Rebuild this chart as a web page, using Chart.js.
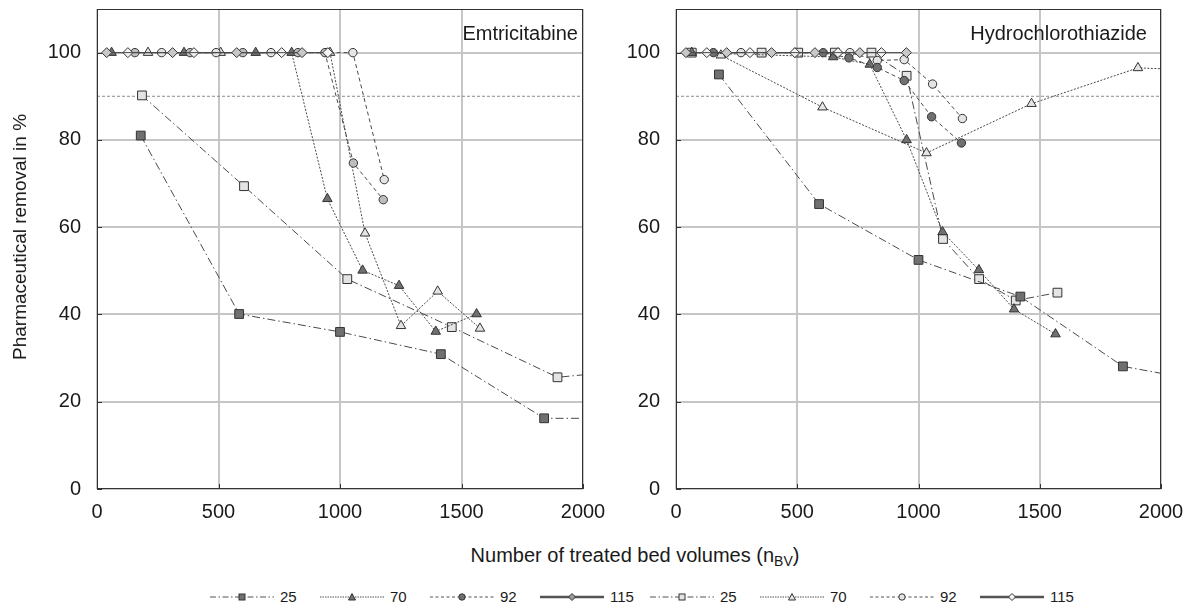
<!DOCTYPE html>
<html lang="en">
<head>
<meta charset="UTF-8">
<title>Pharmaceutical removal</title>
<script src="https://cdn.jsdelivr.net/npm/chart.js"></script>
<style>
    body { margin: 0; background: #fff; font-family: 'Liberation Sans', Arial, sans-serif; color: #1a1a1a; }
    .figure { position: relative; width: 1193px; height: 609px; overflow: hidden; }
    canvas { position: absolute; top: 0; }
    #leftChart { left: 0; }
    #rightChart { left: 580px; }
    .txt { position: absolute; white-space: nowrap; line-height: 20px; font-size: 20px; }
    #yTitle { left: 20px; top: 237px; font-size: 19px; transform: translate(-50%, -50%) rotate(-90deg); }
    #xTitle { left: 635px; top: 555px; transform: translate(-50%, -50%); }
    #xTitle sub { font-size: 14px; vertical-align: -4px; line-height: 0; }
    .legend { position: absolute; left: 210px; top: 589px; display: flex; }
    .legend .item { width: 110px; display: flex; align-items: center; font-size: 15px; line-height: 16px; }
    .legend svg { margin-right: 6px; }
</style>
</head>
<body>
<div class="figure">
    <canvas id="leftChart" width="620" height="530"></canvas>
    <canvas id="rightChart" width="613" height="530"></canvas>
    <div class="txt" style="right:615px; top:23px;">Emtricitabine</div>
    <div class="txt" style="right:46px; top:23px;">Hydrochlorothiazide</div>
    <div class="txt" id="yTitle">Pharmaceutical removal in %</div>
    <div class="txt" id="xTitle">Number of treated bed volumes (n<sub>BV</sub>)</div>
    <div class="legend" id="legend"></div>
</div>

<script>
    // 图中读出的数据 (x = bed volumes, y = removal %)
    // Emtricitabine
    const emt25aX = [180, 585, 1000, 1415, 1840, 2200];
    const emt25aY = [81, 40.1, 36, 30.9, 16.2, 16.2];
    const emt25bX = [185, 605, 1030, 1460, 1895, 2100];
    const emt25bY = [90.2, 69.4, 48.1, 37.1, 25.6, 26.7];
    const emt70aX = [60, 358, 653, 801, 948, 1093, 1243, 1394, 1562];
    const emt70aY = [100, 100, 100, 100, 66.5, 50.1, 46.6, 36.1, 40.1];
    const emt70bX = [210, 509, 959, 1103, 1251, 1402, 1576];
    const emt70bY = [100, 100, 100, 58.6, 37.4, 45.3, 36.8];
    const emt92aX = [156, 383, 600, 827, 938, 1055, 1178];
    const emt92aY = [100, 100, 100, 100, 100, 74.7, 66.3];
    const emt92bX = [266, 490, 716, 946, 1053, 1182];
    const emt92bY = [100, 100, 100, 100, 100, 70.9];
    const emt115aX = [40, 311, 575, 844];
    const emt115aY = [100, 100, 100, 100];
    const emt115bX = [127, 399, 760, 950];
    const emt115bY = [100, 100, 100, 100];

    // Hydrochlorothiazide
    const hct25aX = [177, 590, 1000, 1420, 1843, 2150];
    const hct25aY = [95, 65.3, 52.5, 44.1, 28.1, 25];
    const hct25bX = [65, 353, 504, 655, 806, 951, 1101, 1250, 1401, 1573];
    const hct25bY = [100, 100, 100, 100, 100, 94.7, 57.3, 48.1, 43.2, 45];
    const hct70aX = [65, 648, 799, 951, 1099, 1249, 1394, 1565];
    const hct70aY = [100, 99, 97.3, 80, 58.9, 50.2, 41.2, 35.5];
    const hct70bX = [185, 604, 1033, 1466, 1905, 2150];
    const hct70bY = [99.4, 87.5, 77, 88.3, 96.5, 96];
    const hct92aX = [154, 607, 713, 830, 941, 1054, 1177];
    const hct92aY = [100, 100, 98.8, 96.6, 93.6, 85.3, 79.3];
    const hct92bX = [268, 717, 830, 941, 1058, 1181];
    const hct92bY = [100, 100, 98.2, 98.4, 92.8, 84.9];
    const hct115aX = [41, 209, 394, 573, 758, 950];
    const hct115aY = [100, 100, 100, 100, 100, 100];
    const hct115bX = [127, 305, 490, 668, 847];
    const hct115bY = [100, 100, 100, 100, 100];

    // 90 % 参考线
    const limitX = [0, 2000];
    const limitY = [90, 90];

    const xTicks = [0, 500, 1000, 1500, 2000];
    const yTicks = [0, 20, 40, 60, 80, 100];

    const lineColor = '#4a4a4a';
    const darkFill = '#707070';
    const lightFill = '#e4e4e4';
    const dashDot = [8, 3, 1.5, 3];
    const dotted = [2, 1.5];
    const dashed = [4, 3];

    const legendItems = [
        { label: '25', dash: '6 2.5 1.5 2.5', shape: 'rect', fill: darkFill },
        { label: '70', dash: '1.5 1', shape: 'triangle', fill: darkFill },
        { label: '92', dash: '3 2.5', shape: 'circle', fill: darkFill },
        { label: '115', dash: '', shape: 'rectRot', fill: '#9a9a9a' },
        { label: '25', dash: '6 2.5 1.5 2.5', shape: 'rect', fill: lightFill },
        { label: '70', dash: '1.5 1', shape: 'triangle', fill: lightFill },
        { label: '92', dash: '3 2.5', shape: 'circle', fill: lightFill },
        { label: '115', dash: '', shape: 'rectRot', fill: '#f4f4f4' }
    ];

    function pts(xs, ys) {
        return xs.map((x, i) => ({ x: x, y: ys[i] }));
    }

    function series(label, xs, ys, shape, fill, dash, radius, width) {
        return {
            label: label,
            data: pts(xs, ys),
            showLine: true,
            borderColor: lineColor,
            borderWidth: width || 1,
            borderDash: dash,
            pointStyle: shape,
            pointRadius: radius,
            pointBackgroundColor: fill,
            pointBorderColor: '#333',
            pointBorderWidth: 1,
            tension: 0,
            fill: false
        };
    }

    function limitLine() {
        return {
            label: 'limit',
            data: pts(limitX, limitY),
            showLine: true,
            borderColor: '#8a8a8a',
            borderWidth: 1,
            borderDash: [3, 2],
            pointRadius: 0
        };
    }

    // 外框和内侧小刻度
    const framePlugin = {
        id: 'frame',
        afterDraw(chart) {
            const { ctx, chartArea: a, scales } = chart;
            ctx.save();
            ctx.strokeStyle = '#333';
            ctx.lineWidth = 1;
            ctx.strokeRect(a.left + 0.5, a.top + 0.5, a.right - a.left - 1, a.bottom - a.top - 1);
            ctx.beginPath();
            yTicks.forEach(v => {
                const y = Math.round(scales.y.getPixelForValue(v)) + 0.5;
                ctx.moveTo(a.left, y);
                ctx.lineTo(a.left + 5, y);
            });
            xTicks.forEach(v => {
                const x = Math.round(scales.x.getPixelForValue(v)) + 0.5;
                ctx.moveTo(x, a.bottom);
                ctx.lineTo(x, a.bottom - 5);
            });
            ctx.stroke();
            ctx.restore();
        }
    };

    function noPadding(s) {
        s.paddingLeft = 0;
        s.paddingRight = 0;
        s.paddingTop = 0;
        s.paddingBottom = 0;
    }

    function makeChart(id, datasets, yWidth, rightPad) {
        const grid = { color: '#c6c6c6', lineWidth: 2, drawTicks: false };
        return new Chart(document.getElementById(id), {
            type: 'scatter',
            data: { datasets: datasets },
            options: {
                responsive: false,
                animation: false,
                devicePixelRatio: 1,
                layout: { padding: { top: 9, right: rightPad, left: 0, bottom: 0 } },
                plugins: { legend: { display: false }, tooltip: { enabled: false } },
                scales: {
                    x: {
                        type: 'linear', min: 0, max: 2000,
                        grid: grid,
                        border: { display: false },
                        ticks: { stepSize: 500, padding: 11, color: '#1a1a1a', font: { size: 20 },
                                 callback: v => String(v) },
                        afterFit(s) { s.height = 41; noPadding(s); }
                    },
                    y: {
                        type: 'linear', min: 0, max: 110,
                        grid: grid,
                        border: { display: false },
                        ticks: { stepSize: 20, includeBounds: false, padding: 16, color: '#1a1a1a', font: { size: 20 },
                                 callback: v => String(v) },
                        afterFit(s) { s.width = yWidth; noPadding(s); }
                    }
                }
            },
            plugins: [framePlugin]
        });
    }

    Chart.defaults.font.family = "'Liberation Sans', Arial, sans-serif";

    makeChart('leftChart', [
        series('115', emt115aX, emt115aY, 'rectRot', '#c8c8c8', [], 5),
        series('115', emt115bX, emt115bY, 'rectRot', '#f4f4f4', [], 5),
        series('92', emt92aX, emt92aY, 'circle', '#bdbdbd', dashed, 4.2),
        series('92', emt92bX, emt92bY, 'circle', lightFill, dashed, 4.2),
        series('70', emt70aX, emt70aY, 'triangle', darkFill, dotted, 5.5),
        series('70', emt70bX, emt70bY, 'triangle', lightFill, dotted, 5.5),
        series('25', emt25aX, emt25aY, 'rect', darkFill, dashDot, 6.2),
        series('25', emt25bX, emt25bY, 'rect', lightFill, dashDot, 6.2),
        limitLine()
    ], 97, 37);

    makeChart('rightChart', [
        series('115', hct115aX, hct115aY, 'rectRot', '#c8c8c8', [], 5),
        series('115', hct115bX, hct115bY, 'rectRot', '#f4f4f4', [], 5),
        series('92', hct92aX, hct92aY, 'circle', darkFill, dashed, 4.2),
        series('92', hct92bX, hct92bY, 'circle', lightFill, dashed, 4.2),
        series('70', hct70aX, hct70aY, 'triangle', darkFill, dotted, 5.5),
        series('70', hct70bX, hct70bY, 'triangle', lightFill, dotted, 5.5),
        series('25', hct25aX, hct25aY, 'rect', darkFill, dashDot, 6.2),
        series('25', hct25bX, hct25bY, 'rect', lightFill, dashDot, 6.2),
        limitLine()
    ], 96, 32);

    // 图例
    function markerSvg(shape, fill) {
        const s = 'fill="' + fill + '" stroke="#333" stroke-width="1"';
        if (shape === 'rect') return '<rect x="29" y="3" width="6" height="6" ' + s + '/>';
        if (shape === 'triangle') return '<polygon points="32,2.5 35.5,9 28.5,9" ' + s + '/>';
        if (shape === 'circle') return '<circle cx="32" cy="6" r="3.2" ' + s + '/>';
        return '<polygon points="32,2.5 35.5,6 32,9.5 28.5,6" ' + s + '/>';
    }

    const legend = document.getElementById('legend');
    legendItems.forEach(item => {
        const w = item.dash ? 1.2 : 2.5;
        const div = document.createElement('div');
        div.className = 'item';
        div.innerHTML = `
            <svg width="64" height="12">
                <line x1="0" y1="6" x2="64" y2="6" stroke="#555" stroke-width="${w}" stroke-dasharray="${item.dash}"/>
                ${markerSvg(item.shape, item.fill)}
            </svg>
            <span>${item.label}</span>`;
        legend.appendChild(div);
    });
</script>
</body>
</html>
